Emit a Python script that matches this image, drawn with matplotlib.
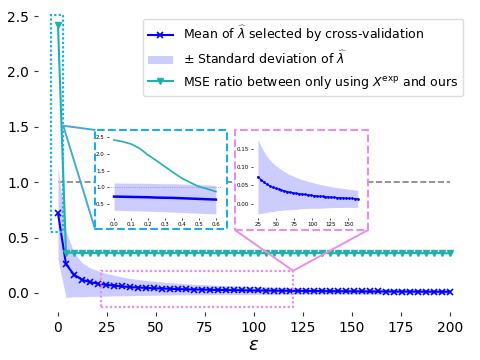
import numpy as np
import matplotlib
matplotlib.use("Agg")
import matplotlib.pyplot as plt
from matplotlib.patches import Rectangle, ConnectionPatch

# main grid of epsilon values (50 points between 0 and 200)
eps = np.linspace(0, 200, 50)

lam_mean = [0.72, 0.26, 0.165, 0.12, 0.098, 0.084, 0.074, 0.066, 0.059, 0.053,
            0.049, 0.045, 0.042, 0.040, 0.037, 0.035, 0.033, 0.031, 0.030, 0.028,
            0.027, 0.026, 0.025, 0.024, 0.023, 0.022, 0.021, 0.020, 0.0195, 0.019,
            0.018, 0.0175, 0.017, 0.0165, 0.016, 0.0155, 0.015, 0.0145, 0.014, 0.0135,
            0.013, 0.0128, 0.0125, 0.012, 0.0118, 0.0115, 0.0112, 0.011, 0.0108, 0.0105]
lam_std = [0.42, 0.30, 0.20, 0.155, 0.13, 0.115, 0.103, 0.093, 0.085, 0.078,
           0.072, 0.067, 0.063, 0.059, 0.056, 0.053, 0.050, 0.048, 0.046, 0.044,
           0.042, 0.040, 0.039, 0.037, 0.036, 0.035, 0.034, 0.033, 0.032, 0.031,
           0.030, 0.029, 0.028, 0.0275, 0.027, 0.026, 0.0255, 0.025, 0.0245, 0.024,
           0.0235, 0.023, 0.0225, 0.022, 0.0215, 0.021, 0.0205, 0.020, 0.0198, 0.0195]
mse_ratio = [2.42, 0.36, 0.365, 0.36, 0.362, 0.36, 0.365, 0.36, 0.358, 0.362,
             0.36, 0.363, 0.36, 0.358, 0.36, 0.362, 0.36, 0.36, 0.363, 0.36,
             0.358, 0.36, 0.362, 0.36, 0.36, 0.358, 0.36, 0.362, 0.36, 0.36,
             0.358, 0.36, 0.36, 0.362, 0.36, 0.358, 0.36, 0.36, 0.362, 0.36,
             0.36, 0.358, 0.36, 0.36, 0.362, 0.36, 0.358, 0.36, 0.36, 0.357]

# fine grid near zero (first inset)
eps_fine = [0.0, 0.05, 0.1, 0.15, 0.2, 0.25, 0.3, 0.35, 0.4, 0.45, 0.5, 0.55, 0.6]
mse_fine = [2.42, 2.37, 2.30, 2.17, 1.97, 1.80, 1.62, 1.44, 1.27, 1.14, 1.02, 0.95, 0.87]
mean_fine = [0.72, 0.715, 0.71, 0.705, 0.70, 0.69, 0.685, 0.68, 0.67, 0.66, 0.65, 0.64, 0.63]
std_fine = [0.41, 0.41, 0.415, 0.415, 0.42, 0.42, 0.42, 0.425, 0.425, 0.43, 0.43, 0.43, 0.43]

BLUE = "#0000ff"
BAND = "#ccccff"
TEAL = "#20b2aa"
CYAN = "#1aaee8"
CYAN_LINE = "#45a8dc"
PINK = "#ea8ce8"

lam_mean = np.array(lam_mean)
lam_std = np.array(lam_std)
mean_fine = np.array(mean_fine)
std_fine = np.array(std_fine)

fig = plt.figure(figsize=(4.8, 3.6), dpi=100)
ax = fig.add_axes([0.08, 0.134, 0.898, 0.852])

ax.plot([0, 200], [1, 1], "--", color="gray", lw=1.2, zorder=1)
ax.plot(eps, lam_mean, "-x", color=BLUE, lw=1.5, ms=4, mew=1.2,
        label=r"Mean of $\widehat{\lambda}$ selected by cross-validation", zorder=3)
ax.fill_between(eps, lam_mean - lam_std, lam_mean + lam_std, color=BAND, lw=0,
                label=r"$\pm$ Standard deviation of $\widehat{\lambda}$", zorder=2)
ax.plot(eps, mse_ratio, "-v", color=TEAL, lw=1.5, ms=5,
        label=r"MSE ratio between only using $X^{\rm exp}$ and ours", zorder=3)

ax.set_xlim(-10, 210)
ax.set_ylim(-0.17, 2.6)
ax.set_xticks(np.arange(0, 201, 25))
ax.set_yticks([0.0, 0.5, 1.0, 1.5, 2.0, 2.5])
for s in ax.spines.values():
    s.set_visible(False)
ax.tick_params(labelsize=10, length=3, width=0.8, colors="#333333", labelcolor="black")
ax.set_xlabel(r"$\epsilon$", fontsize=13, labelpad=1)

ax.legend(loc="upper right", bbox_to_anchor=(1.0, 0.975), fontsize=9,
          handlelength=2.0, framealpha=1, edgecolor="#dddddd")

# zoom indicator rectangles in the main axes
zoom1 = (-3.5, 0.55, 6.2, 1.96)
zoom2 = (21.8, -0.124, 98.2, 0.324)
ax.add_patch(Rectangle(zoom1[:2], zoom1[2], zoom1[3], fill=False, ec=CYAN,
                       ls=(0, (1, 1)), lw=1.6, zorder=4))
ax.add_patch(Rectangle(zoom2[:2], zoom2[2], zoom2[3], fill=False, ec=PINK,
                       ls=(0, (1, 1)), lw=1.6, zorder=4))

# inset frames (figure coordinates)
box1 = [0.198, 0.364, 0.275, 0.275]
box2 = [0.4896, 0.361, 0.2771, 0.2778]
for b, c in [(box1, CYAN), (box2, PINK)]:
    fig.patches.append(Rectangle(b[:2], b[2], b[3], transform=fig.transFigure,
                                 fc="white", ec=c, ls="--", lw=1.5, zorder=1.5))

# connectors
def connect(xy, fxy, color):
    con = ConnectionPatch(xyA=xy, coordsA=ax.transData, xyB=fxy,
                          coordsB=fig.transFigure, color=color, lw=1.4, zorder=1.2)
    fig.add_artist(con)

connect((2.7, 1.51), (box1[0], box1[1] + box1[3]), CYAN_LINE)
connect((2.7, 1.51), (box1[0], box1[1]), CYAN_LINE)
connect((120.0, 0.2), (box2[0], box2[1]), PINK)
connect((120.0, 0.2), (box2[0] + box2[2], box2[1]), PINK)

# inset 1: near zero
ins1 = fig.add_axes([0.227, 0.3956, 0.2333, 0.2258], zorder=2)
ins1.axhline(1.0, color="gray", lw=0.5, ls=":")
ins1.fill_between(eps_fine, mean_fine - std_fine, mean_fine + std_fine, color=BAND, lw=0)
ins1.plot(eps_fine, mean_fine, "-", color=BLUE, lw=1.8)
ins1.plot(eps_fine, mse_fine, "-", color=TEAL, lw=1.2)
ins1.set_xticks([0.0, 0.1, 0.2, 0.3, 0.4, 0.5, 0.6])
ins1.set_yticks([0.5, 1.0, 1.5, 2.0, 2.5])

# inset 2: mid range
sel = slice(6, 41)
ins2 = fig.add_axes([0.527, 0.395, 0.2288, 0.2283], zorder=2)
ins2.fill_between(eps[sel], (lam_mean - lam_std)[sel], (lam_mean + lam_std)[sel],
                  color=BAND, lw=0)
ins2.plot(eps[sel], lam_mean[sel], ".-", color=BLUE, lw=0.8, ms=2)
ins2.set_xticks([25, 50, 75, 100, 125, 150])
ins2.set_yticks([0.0, 0.05, 0.10, 0.15])

for a in (ins1, ins2):
    a.patch.set_alpha(0)
    for s in a.spines.values():
        s.set_visible(False)
    a.tick_params(labelsize=4, length=1.5, width=0.5, pad=1.5)

fig.savefig("out.png", dpi=100)
